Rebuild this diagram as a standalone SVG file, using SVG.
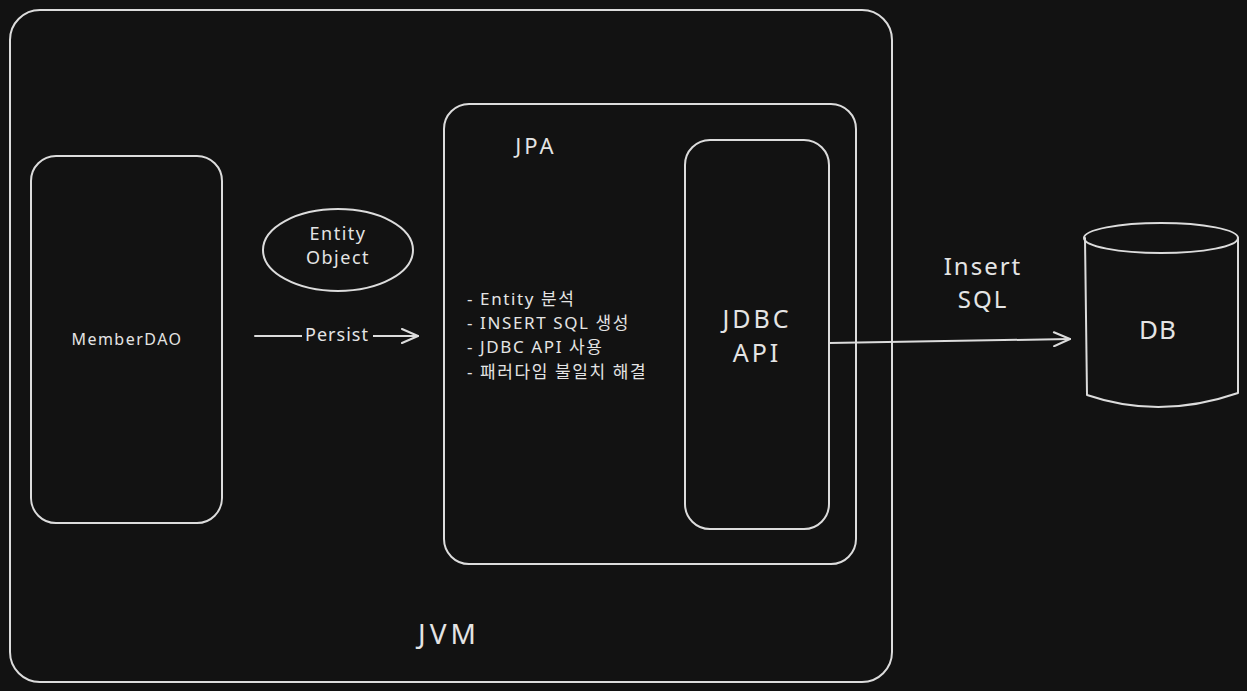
<svg xmlns="http://www.w3.org/2000/svg" width="1247" height="691" viewBox="0 0 1247 691">
<defs>
<style>
.s{fill:none;stroke:#dcdcdc;stroke-width:2;stroke-linecap:round;stroke-linejoin:round}
.t{fill:#e4e4e4;font-family:"Noto Sans","Noto Sans CJK KR",sans-serif}
.m{text-anchor:middle;dominant-baseline:central}
</style>
<marker id="ah" markerWidth="20" markerHeight="16" refX="18" refY="8" orient="auto" markerUnits="userSpaceOnUse">
<path d="M2,1 L18,8 L2,15" fill="none" stroke="#dcdcdc" stroke-width="2" stroke-linecap="round" stroke-linejoin="round"/>
</marker>
</defs>
<rect width="1247" height="691" fill="#121212"/>
<g id="jvm">
<rect class="s" x="10" y="10" width="882" height="672" rx="30"/>
<text class="t m" x="449" y="633" font-size="28" letter-spacing="4">JVM</text>
</g>
<g id="memberdao">
<rect class="s" x="31" y="156" width="191" height="367" rx="25"/>
<text class="t m" x="127" y="339" font-size="16" letter-spacing="1.5">MemberDAO</text>
</g>
<g id="entity">
<ellipse class="s" cx="338" cy="250" rx="75" ry="41"/>
<text class="t m" x="338" y="233" font-size="18" letter-spacing="1.5">Entity</text>
<text class="t m" x="338" y="257" font-size="18" letter-spacing="1.5">Object</text>
</g>
<g id="jpa">
<rect class="s" x="444" y="104" width="412" height="460" rx="25"/>
<text class="t m" x="536" y="145" font-size="22" letter-spacing="3">JPA</text>
<g class="t" font-size="17" letter-spacing="1.6">
<text x="467" y="305">- Entity 분석</text>
<text x="467" y="329">- INSERT SQL 생성</text>
<text x="467" y="353">- JDBC API 사용</text>
<text x="467" y="378">- 패러다임 불일치 해결</text>
</g>
</g>
<g id="jdbc">
<rect class="s" x="685" y="140" width="144" height="389" rx="25"/>
<text class="t m" x="757" y="318" font-size="25" letter-spacing="3">JDBC</text>
<text class="t m" x="757" y="352" font-size="25" letter-spacing="3">API</text>
</g>
<g id="db">
<path class="s" d="M1085,238 L1087,395 Q1160,420 1238,393 L1238,238"/>
<ellipse class="s" cx="1161" cy="238" rx="77" ry="15"/>
<text class="t m" x="1158" y="329" font-size="26" letter-spacing="1">DB</text>
</g>
<g id="connectors">
<line class="s" x1="255" y1="336" x2="418" y2="336" marker-end="url(#ah)"/>
<rect x="302" y="324" width="71" height="24" fill="#121212"/>
<text class="t m" x="337" y="334" font-size="18" letter-spacing="1">Persist</text>
<line class="s" x1="829" y1="343" x2="1070" y2="339" marker-end="url(#ah)"/>
<text class="t m" x="983" y="265" font-size="24" letter-spacing="2">Insert</text>
<text class="t m" x="983" y="298" font-size="24" letter-spacing="2">SQL</text>
</g>
</svg>
